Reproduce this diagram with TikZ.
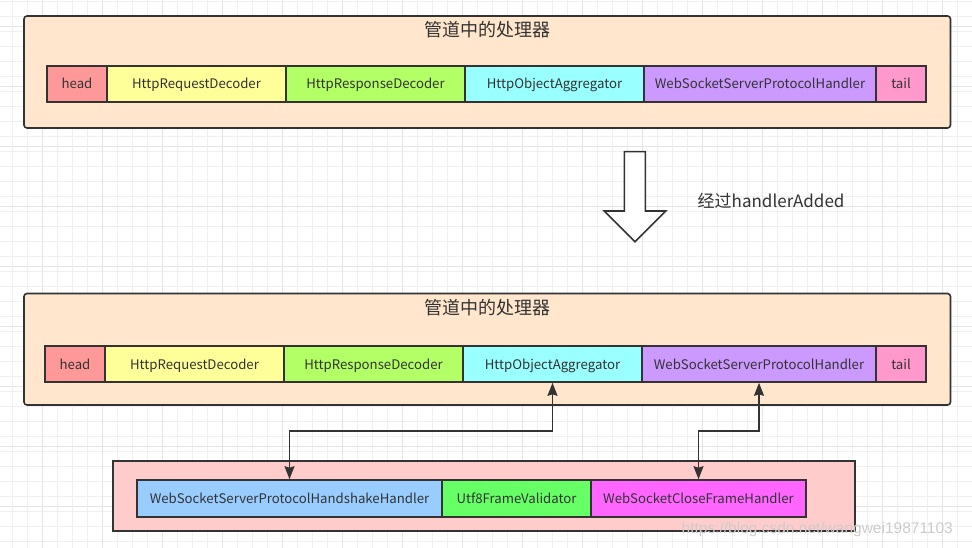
\documentclass[tikz,border=0pt]{standalone}
\usepackage{fontspec}
\setmainfont{Noto Sans CJK SC}
\newfontfamily\wmfont{Liberation Sans}
\usetikzlibrary{arrows.meta}
\definecolor{lc}{HTML}{333333}
\definecolor{tc}{HTML}{333333}
\definecolor{cont}{HTML}{FFE6CC}
\definecolor{cpink}{HTML}{FFCCCC}
\definecolor{chead}{HTML}{FF9999}
\definecolor{creq}{HTML}{FFFF99}
\definecolor{cresp}{HTML}{B3FF66}
\definecolor{cagg}{HTML}{99FFFF}
\definecolor{cws}{HTML}{CC99FF}
\definecolor{ctail}{HTML}{FF99CC}
\definecolor{chs}{HTML}{99CCFF}
\definecolor{cutf}{HTML}{66FF66}
\definecolor{cclose}{HTML}{FF66FF}
\definecolor{gminor}{HTML}{F0F0F0}
\definecolor{gmajor}{HTML}{E4E4E4}
\begin{document}
\begin{tikzpicture}[x=1pt,y=-1pt,
  cell/.style={draw=lc, line width=1.6pt, inner sep=0pt, minimum height=36pt, text=tc, text height=12pt, text depth=2pt, font=\fontsize{13.2}{15}\selectfont},
  contbox/.style={draw=lc, line width=1.6pt, fill=cont, rounded corners=3pt},
  title/.style={text=tc, font=\fontsize{18}{20}\selectfont, inner sep=0pt},
  conn/.style={draw=lc, line width=1.6pt, >={Stealth[length=13pt,width=10pt,inset=1.5pt]}, <->},
  gridminorline/.style={draw=gminor, line width=0.8pt},
  gridmajorline/.style={draw=gmajor, line width=0.8pt}]
\useasboundingbox (0,0) rectangle (972,548);
\fill[white] (0,0) rectangle (972,548);
% grid
\foreach \i in {0,...,64} \draw[gridminorline] (12.3+15*\i,0) -- (12.3+15*\i,548);
\foreach \i in {0,...,36} \draw[gridminorline] (0,1+15*\i) -- (972,1+15*\i);
\foreach \i in {0,...,15} \draw[gridmajorline] (42.3+60*\i,0) -- (42.3+60*\i,548);
\foreach \i in {0,...,8} \draw[gridmajorline] (0,26+60*\i) -- (972,26+60*\i);

% top container
\draw[contbox] (24,16) rectangle (950.5,128);
\node[title] (t1) at (487,30) {管道中的处理器};
\node[cell, fill=chead, minimum width=60pt]  (h1) at (77,84) {head};
\node[cell, fill=creq, minimum width=179pt]  (rq1) at (196.5,84) {HttpRequestDecoder};
\node[cell, fill=cresp, minimum width=179pt] (rs1) at (375.5,84) {HttpResponseDecoder};
\node[cell, fill=cagg, minimum width=179pt]  (ag1) at (554.5,84) {HttpObjectAggregator};
\node[cell, fill=cws, minimum width=232pt]   (ws1) at (760,84) {WebSocketServerProtocolHandler};
\node[cell, fill=ctail, minimum width=50pt]  (tl1) at (901,84) {tail};

% big arrow
\draw[draw=lc, line width=1.6pt, fill=white, line join=miter]
  (624.3,151.7) -- (645.3,151.7) -- (645.3,211) -- (665.7,211) -- (635,241.7)
  -- (604.3,211) -- (624.3,211) -- cycle;
\node[text=tc, font=\fontsize{17}{19}\selectfont, anchor=west, inner sep=0pt] (lbl) at (697.5,201) {经过handlerAdded};

% second container
\draw[contbox] (24,293.5) rectangle (950.5,405);
\node[title] (t2) at (487,308) {管道中的处理器};
\node[cell, fill=chead, minimum width=60pt]  (h2) at (75,364) {head};
\node[cell, fill=creq, minimum width=179pt]  (rq2) at (194.5,364) {HttpRequestDecoder};
\node[cell, fill=cresp, minimum width=179pt] (rs2) at (373.5,364) {HttpResponseDecoder};
\node[cell, fill=cagg, minimum width=179pt]  (ag2) at (552.5,364) {HttpObjectAggregator};
\node[cell, fill=cws, minimum width=234pt]   (ws2) at (759,364) {WebSocketServerProtocolHandler};
\node[cell, fill=ctail, minimum width=50pt]  (tl2) at (901,364) {tail};

% bottom container
\draw[draw=lc, line width=1.6pt, fill=cpink] (112.7,461) rectangle (855,530.7);
\node[cell, fill=chs, minimum width=305pt, minimum height=37pt]   (hs) at (289.5,498.5) {WebSocketServerProtocolHandshakeHandler};
\node[cell, fill=cutf, minimum width=149pt, minimum height=37pt]  (uf) at (516.5,498.5) {Utf8FrameValidator};
\node[cell, fill=cclose, minimum width=215pt, minimum height=37pt] (cl) at (698.5,498.5) {WebSocketCloseFrameHandler};

% connectors
\coordinate (mid) at (0,431);
\draw[conn] (hs.north) |- (ag2.south |- mid) -- (ag2.south);
\draw[conn] (cl.north) |- (ws2.south |- mid) -- (ws2.south);

% watermark
\node[text=black!20, font=\wmfont\fontsize{15.5}{17}\selectfont, anchor=west, inner sep=0pt] (wm) at (681.5,529) {https://blog.csdn.net/wangwei19871103};
\end{tikzpicture}
\end{document}
